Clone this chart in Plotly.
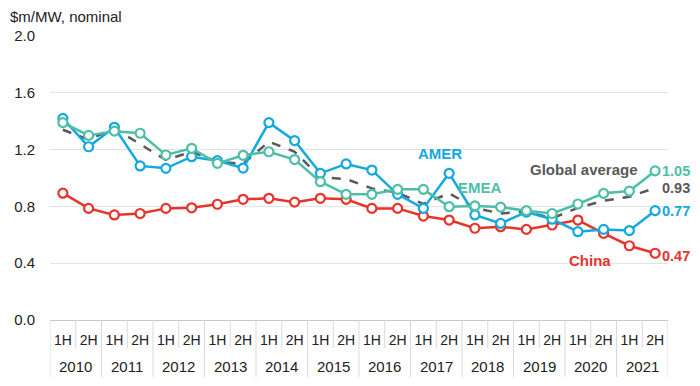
import plotly.graph_objects as go

years = [str(y) for y in range(2010, 2022)]
halves = ["1H", "2H"]
x_half = [h for _ in years for h in halves]
idx = list(range(len(x_half)))

amer = [1.42, 1.22, 1.357, 1.085, 1.068, 1.15, 1.122, 1.07, 1.39, 1.263, 1.033, 1.099,
        1.056, 0.885, 0.786, 1.033, 0.74, 0.68, 0.76, 0.71, 0.622, 0.638, 0.63, 0.77]
emea = [1.39, 1.30, 1.33, 1.315, 1.162, 1.209, 1.103, 1.16, 1.185, 1.13, 0.974, 0.885,
        0.885, 0.92, 0.92, 0.798, 0.803, 0.795, 0.77, 0.75, 0.817, 0.892, 0.908, 1.05]
china = [0.893, 0.786, 0.74, 0.75, 0.786, 0.79, 0.815, 0.85, 0.857, 0.83, 0.857, 0.85,
         0.786, 0.786, 0.732, 0.704, 0.646, 0.657, 0.638, 0.669, 0.704, 0.61, 0.523, 0.47]
glob = [1.34, 1.27, 1.35, 1.24, 1.127, 1.185, 1.115, 1.10, 1.256, 1.185, 1.005, 0.993,
        0.927, 0.897, 0.817, 0.892, 0.79, 0.75, 0.763, 0.716, 0.79, 0.84, 0.868, 0.93]

C_AMER = "#12A9E0"
C_EMEA = "#4DBFA6"
C_CHINA = "#E8332A"
C_GLOB = "#595959"
C_DIV = "#D9D9D9"

FONT = "Liberation Sans, Arial, sans-serif"

fig = go.Figure()

def marker_trace(vals, color, name):
    return go.Scatter(x=idx, y=vals, mode="lines+markers", name=name,
                      line=dict(color=color, width=2.5),
                      marker=dict(symbol="circle", size=9, color="white",
                                  line=dict(color=color, width=2.2)),
                      showlegend=False, cliponaxis=False)

fig.add_trace(go.Scatter(x=idx, y=glob, mode="lines", name="Global average",
                         line=dict(color=C_GLOB, width=2.5, dash="dash"),
                         showlegend=False))
fig.add_trace(marker_trace(china, C_CHINA, "China"))
fig.add_trace(marker_trace(amer, C_AMER, "AMER"))
fig.add_trace(marker_trace(emea, C_EMEA, "EMEA"))

last = idx[-1]
ends = [(emea[-1], C_EMEA, "1.05", 0), (glob[-1], C_GLOB, "0.93", 0),
        (amer[-1], C_AMER, "0.77", 0), (china[-1], C_CHINA, "0.47", -3)]
for val, col, txt, dy in ends:
    fig.add_annotation(x=last, y=val, text=f"<b>{txt}</b>", showarrow=False,
                       xanchor="left", xshift=6, yshift=dy, borderpad=0,
                       font=dict(family=FONT, size=14.5, color=col))

labels = [("AMER", 14.65, 1.17, C_AMER),
          ("EMEA", 16.2, 0.93, C_EMEA),
          ("Global average", 20.24, 1.063, C_GLOB),
          ("China", 20.47, 0.42, C_CHINA)]
for txt, xv, yv, col in labels:
    fig.add_annotation(x=xv, y=yv, text=f"<b>{txt}</b>", showarrow=False,
                       font=dict(family=FONT, size=15, color=col))

# year labels under the half-year ticks
for k, yr in enumerate(years):
    fig.add_annotation(x=2 * k + 0.5, y=-0.162, yref="paper", text=yr,
                       showarrow=False, yanchor="middle",
                       font=dict(family=FONT, size=15, color="#222"))

# category divider lines
for b in range(len(x_half) + 1):
    xb = b - 0.5
    y_end = -0.2007 if b % 2 == 0 else -0.0986
    fig.add_shape(type="line", xref="x", yref="paper", x0=xb, x1=xb, y0=0, y1=y_end,
                  line=dict(color=C_DIV, width=1))

fig.add_annotation(xref="paper", yref="paper", x=-0.068, y=1.03, xanchor="left",
                   yanchor="bottom", text="$m/MW, nominal", showarrow=False,
                   font=dict(family=FONT, size=15, color="#222"))

fig.update_layout(
    width=684, height=370,
    margin=dict(l=42, r=24, t=28, b=58, autoexpand=False),
    paper_bgcolor="white", plot_bgcolor="white",
    font=dict(family=FONT, size=14, color="#222"),
    xaxis=dict(range=[-0.5, len(x_half) - 0.5], tickvals=idx, ticktext=x_half,
               showline=True, linecolor="#C8C8C8", linewidth=1, ticks="",
               ticklabelstandoff=7, tickangle=0, automargin=False,
               showgrid=False, zeroline=False, tickfont=dict(size=14, color="#222")),
    yaxis=dict(range=[0, 2.0], tickvals=[0, 0.4, 0.8, 1.2, 1.6, 2.0],
               ticktext=["0.0", "0.4", "0.8", "1.2", "1.6", "2.0"],
               showgrid=True, gridcolor="#E3E3E3", gridwidth=1, zeroline=False,
               showline=False, ticks="", ticklabelstandoff=14, automargin=False,
               tickfont=dict(size=15, color="#222")),
)

fig.write_html("out.html")
